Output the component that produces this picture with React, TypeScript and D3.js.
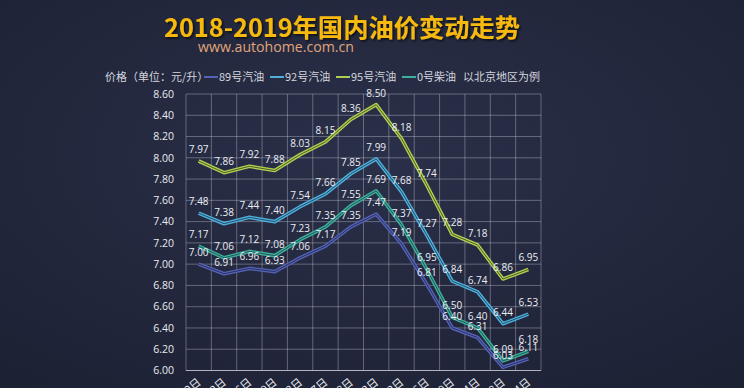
import * as d3 from 'd3';

const dates = ['6月19日', '7月2日', '7月16日', '7月30日', '8月13日', '8月27日', '9月28日', '10月12日', '11月2日', '11月16日', '11月30日', '12月14日', '12月28日', '1月14日'];
const yTicks = [6.0, 6.2, 6.4, 6.6, 6.8, 7.0, 7.2, 7.4, 7.6, 7.8, 8.0, 8.2, 8.4, 8.6];

const gas89 = [7.00, 6.91, 6.96, 6.93, 7.06, 7.17, 7.35, 7.47, 7.19, 6.81, 6.40, 6.31, 6.03, 6.11];
const gas92 = [7.48, 7.38, 7.44, 7.40, 7.54, 7.66, 7.85, 7.99, 7.68, 7.27, 6.84, 6.74, 6.44, 6.53];
const gas95 = [7.97, 7.86, 7.92, 7.88, 8.03, 8.15, 8.36, 8.50, 8.18, 7.74, 7.28, 7.18, 6.86, 6.95];
const diesel0 = [7.17, 7.06, 7.12, 7.08, 7.23, 7.35, 7.55, 7.69, 7.37, 6.95, 6.50, 6.40, 6.09, 6.18];

const seriesNames = ['89号汽油', '92号汽油', '95号汽油', '0号柴油'];
const seriesValues = [gas89, gas92, gas95, diesel0];
const colors = ['#5563b6', '#4fb0dc', '#b0cf52', '#3fae9f'];
const cores = ['#2a3060', '#22506a', '#4e5e24', '#1e5a52'];

const W = 744;
const H = 388;
const margin = { left: 186, right: 203, top: 94, bottom: 17.5 };

const cjk = '"Noto Sans CJK SC", "Noto Sans", sans-serif';
const num = '"Open Sans", "Noto Sans", sans-serif';

export default function App() {
  const x = d3.scaleBand<string>()
    .domain(dates)
    .range([margin.left, W - margin.right]);
  const y = d3.scaleLinear()
    .domain([6, 8.6])
    .range([H - margin.bottom, margin.top]);
  const cx = (d: string) => (x(d) ?? 0) + x.bandwidth() / 2;

  const line = d3.line<number>()
    .x((_, i) => cx(dates[i]))
    .y(v => y(v));

  // vertical grid at band edges
  const vLines = dates.map(d => x(d) ?? 0).concat([W - margin.right]);

  const legendX = [204, 270, 336, 402];

  return (
    <svg width={W} height={H} style={{ position: 'absolute', left: 0, top: 0, display: 'block' }}>
      <defs>
        <radialGradient id="bg" cx="50%" cy="40%" r="75%">
          <stop offset="0%" stopColor="#2a3049" />
          <stop offset="100%" stopColor="#1d2134" />
        </radialGradient>
        <filter id="shadow" x="-10%" y="-30%" width="120%" height="160%">
          <feDropShadow dx="1.5" dy="1.5" stdDeviation="1" floodColor="#000" floodOpacity="0.7" />
        </filter>
      </defs>
      <rect width={W} height={H} fill="url(#bg)" />

      {/* title */}
      <text x={342} y={37} textAnchor="middle" fill="#f7b90c" fontFamily={cjk} fontWeight={700}
        fontSize={25} filter="url(#shadow)" textLength={356} lengthAdjust="spacingAndGlyphs">
        2018-2019年国内油价变动走势
      </text>
      <text x={198} y={52} fill="#e0a57a" fontFamily={num} fontSize={14.5} textLength={156}
        lengthAdjust="spacingAndGlyphs">
        www.autohome.com.cn
      </text>

      {/* legend */}
      <g fontFamily={cjk} fontSize={11} fill="#d4d6de">
        <text x={105} y={81}>价格（单位：元/升）</text>
        {seriesNames.map((n, i) => (
          <g key={n}>
            <line x1={legendX[i]} x2={legendX[i] + 14} y1={77} y2={77} stroke={colors[i]} strokeWidth={2} />
            <text x={legendX[i] + 15} y={81}>{n}</text>
          </g>
        ))}
        <text x={463} y={81}>以北京地区为例</text>
      </g>

      {/* grid */}
      <g stroke="rgba(220,222,235,0.35)" strokeWidth={1}>
        {yTicks.map(t => (
          <line key={t} x1={margin.left} x2={W - margin.right} y1={y(t)} y2={y(t)} />
        ))}
        {vLines.map((v, i) => (
          <line key={i} x1={v} x2={v} y1={margin.top} y2={H - margin.bottom} />
        ))}
      </g>
      <line x1={margin.left} x2={W - margin.right} y1={y(6)} y2={y(6)} stroke="rgba(230,232,240,0.6)" />

      {/* y axis labels */}
      <g fontFamily={num} fontSize={10.5} fill="#e8eaf0" textAnchor="end">
        {yTicks.map(t => (
          <text key={t} x={174} y={y(t) + 3.8}>{t.toFixed(2)}</text>
        ))}
      </g>

      {/* x axis labels */}
      <g fontFamily={cjk} fontSize={11} fill="#e8eaf0" textAnchor="end">
        {dates.map(d => (
          <text key={d} transform={`translate(${cx(d) + 3},${H - margin.bottom + 13}) rotate(-40)`}>{d}</text>
        ))}
      </g>

      {/* series */}
      {seriesValues.map((vals, i) => (
        <g key={i}>
          <path d={line(vals) ?? ''} fill="none" stroke={colors[i]} strokeWidth={3.6} strokeLinejoin="round" />
          <path d={line(vals) ?? ''} fill="none" stroke={cores[i]} strokeWidth={1} strokeLinejoin="round" />
        </g>
      ))}

      {/* data labels */}
      <g fontFamily={num} fontSize={10} fill="#eceef4" textAnchor="middle">
        {seriesValues.map((vals, i) => vals.map((v, j) => (
          <text key={`${i}-${j}`} x={cx(dates[j])} y={y(v) - 8}>{v.toFixed(2)}</text>
        )))}
      </g>
    </svg>
  );
}
